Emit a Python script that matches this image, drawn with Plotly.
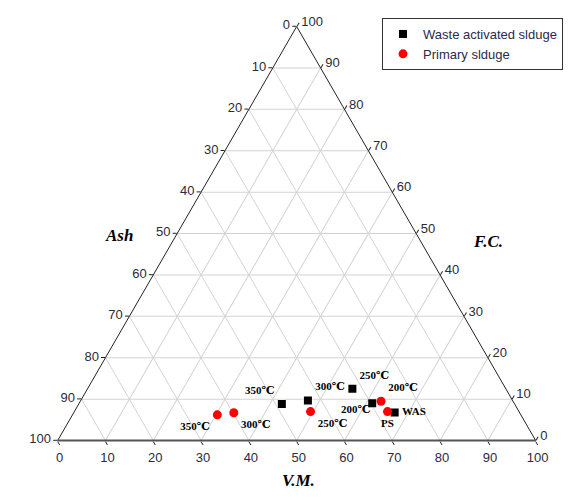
import plotly.graph_objects as go

# Data (percent)
was_labels = ["WAS", "200℃", "250℃", "300℃", "350℃"]
was_fc = [6.8, 9.0, 12.5, 9.7, 8.8]
was_vm = [67.1, 61.3, 55.4, 47.5, 42.5]
was_ash = [round(100 - f - v, 1) for f, v in zip(was_fc, was_vm)]

ps_labels = ["PS", "200℃", "250℃", "300℃", "350℃"]
ps_fc = [7.0, 9.5, 7.0, 6.7, 6.2]
ps_vm = [65.5, 62.9, 49.4, 33.5, 30.3]
ps_ash = [round(100 - f - v, 1) for f, v in zip(ps_fc, ps_vm)]

tick_vals = list(range(0, 101, 10))
tick_text = [str(100 - v) for v in tick_vals]

was_textpos = ["middle right", "bottom left", "top right", "top right", "top left"]
ps_textpos = ["bottom center", "top right", "bottom right", "bottom right", "bottom left"]
was_label_gap = [10, 1, 10, 10, 10]
ps_label_gap = [10, 10, 10, 10, 10]

fig = go.Figure()
lab_font = dict(family="Liberation Serif, DejaVu Serif", size=11, color="black")
fig.add_trace(go.Scatterternary(
    a=was_fc, b=was_ash, c=was_vm, mode="markers+text", text=[f"<b>{t}</b>" for t in was_labels],
    textposition=was_textpos, textfont=lab_font, showlegend=False, hoverinfo="skip",
    marker=dict(size=was_label_gap, color="rgba(0,0,0,0)"),
))
fig.add_trace(go.Scatterternary(
    a=ps_fc, b=ps_ash, c=ps_vm, mode="markers+text", text=[f"<b>{t}</b>" for t in ps_labels],
    textposition=ps_textpos, textfont=lab_font, showlegend=False, hoverinfo="skip",
    marker=dict(size=ps_label_gap, color="rgba(0,0,0,0)"),
))
fig.add_trace(go.Scatterternary(
    a=was_fc, b=was_ash, c=was_vm, mode="markers", name="Waste activated slduge",
    marker=dict(symbol="square", size=8, color="black"),
))
fig.add_trace(go.Scatterternary(
    a=ps_fc, b=ps_ash, c=ps_vm, mode="markers", name="Primary slduge",
    marker=dict(symbol="circle", size=9, color="#ff0000"),
))

tick_font = dict(family="Liberation Sans, Arial", size=13, color="#2b2b3a")
def axis(lw=1, lc="#222"):
    return dict(
        title=dict(text=""), tickmode="array", tickvals=tick_vals, ticktext=tick_text,
        ticks="outside", ticklen=4, tickcolor="#222", tickfont=tick_font,
        showgrid=True, gridcolor="#d3d3d3", gridwidth=1,
        showline=True, linecolor=lc, linewidth=lw, min=0,
    )

fig.update_layout(
    width=582, height=497,
    margin=dict(l=0, r=0, t=0, b=0),
    paper_bgcolor="white",
    ternary=dict(
        sum=100,
        bgcolor="white",
        domain=dict(x=[0.043, 0.949], y=[0.1297, 0.9627]),
        aaxis=axis(),
        baxis=axis(2, "#555"),
        caxis=axis(),
    ),
    legend=dict(
        x=374 / 582, y=1 - 10 / 497, xanchor="left", yanchor="top",
        bgcolor="white", bordercolor="#333", borderwidth=1,
        font=dict(family="Liberation Sans, Arial", size=13, color="#2b2b4a"),
        tracegroupgap=0,
    ),
    annotations=[
        dict(text="<b><i>Ash</i></b>", x=95 / 582, y=1 - 227 / 497, xref="paper", yref="paper",
             showarrow=False, font=dict(family="Liberation Serif", size=17, color="black")),
        dict(text="<b><i>F.C.</i></b>", x=497 / 582, y=1 - 233 / 497, xref="paper", yref="paper",
             showarrow=False, font=dict(family="Liberation Serif", size=17, color="black")),
        dict(text="<b><i>V.M.</i></b>", x=290 / 582, y=1 - 484 / 497, xref="paper", yref="paper",
             showarrow=False, font=dict(family="Liberation Serif", size=17, color="black")),
    ],
)

fig.write_html("out.html")
